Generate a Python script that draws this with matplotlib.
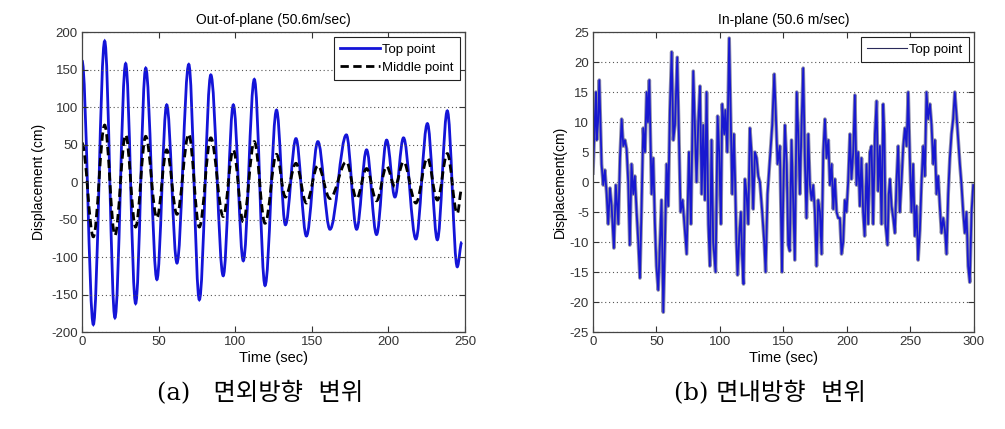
import numpy as np
import matplotlib
matplotlib.use("Agg")
import matplotlib.pyplot as plt
from matplotlib.path import Path
from matplotlib.patches import PathPatch

plt.rcParams['font.family'] = ['Liberation Sans', 'DejaVu Sans']
plt.rcParams['axes.unicode_minus'] = False

# ---- (a) out-of-plane: extrema (time s, displacement cm)
top_t = [0.0, 7.4, 14.8, 21.5, 28.5, 35.0, 41.6, 48.9, 55.3, 62.0, 69.7, 76.6,
         84.1, 92.2, 98.8, 105.3, 112.5, 119.5, 127.0, 132.8, 139.7, 146.5,
         154.0, 161.9, 172.6, 179.3, 185.8, 192.3, 198.9, 204.3, 209.9, 218.0,
         225.5, 232.0, 238.5, 245.0, 248.0]
top_v = [162, -190, 188, -181, 158, -162, 152, -130, 103, -108, 157, -157,
         143, -125, 103, -105, 137, -138, 96, -57, 58, -72,
         54, -63, 63, -63, 43, -70, 56, -20, 59, -76,
         78, -77, 95, -113, -80]
mid_v = [52, -73, 76, -71, 63, -60, 61, -48, 43, -43, 64, -60,
         59, -46, 43, -53, 54, -55, 37, -20, 25, -28,
         22, -22, 27, -22, 18, -25, 21, -6, 27, -28,
         32, -24, 38, -42, -8]

# ---- (b) in-plane: peaks / troughs
inp_t = [0.0, 1.6, 2.4, 2.9, 4.0, 5.0, 6.8, 8.1, 9.4, 10.8, 12.0, 13.4, 14.7,
         16.5, 18.0, 20.0, 21.3, 22.6, 23.9, 25.2, 26.5, 27.8, 29.0, 30.4,
         31.8, 33.0, 34.4, 35.7, 37.0, 38.3, 39.6, 41.0, 42.3, 43.3, 44.4,
         46.2, 47.5, 48.8, 50.0, 51.4, 52.8, 54.0, 55.4, 56.7, 58.0, 59.3,
         60.6, 62.0, 63.3, 64.6, 66.4, 68.0, 69.0, 70.6, 72.4, 73.8,
         75.6, 77.2, 79.0, 80.3, 81.6, 82.9, 84.3, 85.6, 86.9, 88.2, 89.5,
         90.9, 92.1, 93.4, 94.7, 96.6, 98.2, 99.4, 100.8, 101.8, 103.4, 104.3,
         105.8, 107.3, 108.4, 109.7, 111.0, 112.0, 113.0, 113.9, 115.2, 116.5,
         117.6, 118.6, 119.7, 121.0, 122.3, 123.6, 124.9, 126.2, 127.6, 128.9,
         130.2, 131.5, 133.3, 134.9, 136.0, 137.5, 139.4, 141.2, 142.8, 143.9,
         145.4, 147.2, 148.9,
         149.9, 151.2, 152.6, 153.8, 155.0, 156.4, 157.7, 159.0, 160.5, 161.7,
         163.0, 164.3, 165.6, 167.0, 168.2, 169.6, 170.9, 172.2, 173.5, 174.8,
         176.1, 177.4, 178.8, 180.1, 181.4, 182.7, 184.0, 185.4, 186.6, 188.0,
         189.3, 190.6, 191.9, 193.2, 194.5, 195.8, 197.1, 198.4, 199.7, 201.0,
         202.4, 203.6, 205.0, 206.3, 207.6, 208.9, 210.2, 211.5, 212.8, 214.0,
         215.5, 216.8, 218.1, 219.4, 220.7, 222.1, 223.4,
         224.6, 226.0, 227.3, 228.6, 229.5, 230.4, 232.0, 233.0, 233.9, 235.2,
         236.5, 237.8, 239.1, 240.4, 241.7, 243.0, 244.4, 245.7, 247.0, 248.3,
         249.6, 250.9, 252.2, 253.5, 254.8, 256.1, 257.5, 258.8, 260.1, 261.4,
         262.7, 264.0, 265.4, 266.7, 268.0, 269.3, 270.6, 271.9, 273.2, 274.5,
         275.9, 277.2, 278.5, 279.8, 281.1, 282.4, 283.7, 285.0, 286.4, 287.7,
         289.0, 290.3, 291.6, 292.9, 294.2, 295.5, 296.8, 298.2, 299.5]
inp_v = [1.5, 11, 15, 7, 10, 17, 3, -0.5, 2, -2, -7, -1, -4,
         -11, -0.5, -7, 4, 10.5, 6, 7, 5.5, 0, -10.5, 3,
         -2, 1, -5, -10, -16, -4, 9, 5, 15, 10, 17,
         -2, 4, -7, -14, -18, -10, -3, -21.7, -10, 3, -4,
         12, 21.7, 7, 9.5, 20.8, 5, -5, -3, -8, -12,
         5, -7, 18.5, 9.5, 0, 9.5, 16, -2, 9.5, -3, 15,
         -7, -14, 7, -10, -15, 11, 5, -7, 13, 8, 12,
         5, 24, 12, -2, 8, 0, -10, -15.5, -9, -5,
         -13, -17, 0.5, -2, -7, 9, 5, -4.5, 5, 4,
         1, 0, -5, -10, -15, -2, 4, 9.5, 18, 12,
         3, 6, -15,
         -2, 9.5, 3, -10.5, -11.5, 7, -3, -13, 15, 8,
         -2, 9.5, 19, 3, -6, 8, -0.5, -3, -0.5, -5,
         -14, -3, -5, -12, 5, 10.5, 4, 7, -0.5, 3,
         -4.5, 0.5, -5, -6, -6, -12, -10, -3, -5, 0,
         8, 0.5, 5, 14.5, -0.5, 5, -4, 4, -5, -9,
         3, -7, 5, 6, -7, 8, 13.5,
         -1.5, 6, -7, 13, 8, -7, -10.5, -2, 0.5, -4,
         -6, -8.5, 0, 6, -5, 0, 6, 9, 6, 15,
         4, -5, 3, -9, -4, -13, -8, 0, 6, 1,
         15, 10.5, 13, 9.5, 3, 7, -2, 1, -4, -8.5,
         -6, -8, -12, -2, 4, 8, 10.5, 15, 11, 7,
         3, -0.5, -5, -8.5, -5, -14, -16.7, -5, -0.5]


def wave_path(t, v, k=0.364):
    # cubic bezier between successive extrema, flat at each extremum
    verts = [(t[0], v[0])]
    codes = [Path.MOVETO]
    for i in range(len(t) - 1):
        dt = t[i + 1] - t[i]
        verts += [(t[i] + k * dt, v[i]), (t[i + 1] - k * dt, v[i + 1]),
                  (t[i + 1], v[i + 1])]
        codes += [Path.CURVE4] * 3
    return Path(verts, codes)


fig = plt.figure(figsize=(10.05, 4.29), dpi=100)

ax1 = fig.add_axes([0.0816, 0.2261, 0.381, 0.699])
ax2 = fig.add_axes([0.590, 0.2261, 0.379, 0.699])

blue = '#1414d8'
ax1.add_patch(PathPatch(wave_path(top_t, top_v), fill=False, ec=blue, lw=2.0))
ax1.add_patch(PathPatch(wave_path(top_t, mid_v), fill=False, ec='black',
                        lw=2.0, ls=(0, (3, 1.6))))
ax1.plot([], [], color=blue, lw=2.0, label='Top point')
ax1.plot([], [], color='black', lw=2.0, ls=(0, (3, 1.6)), label='Middle point')
ax1.set_xlim(0, 250)
ax1.set_ylim(-200, 200)
ax1.set_xticks(np.arange(0, 251, 50))
ax1.set_yticks(np.arange(-200, 201, 50))
ax1.set_title('Out-of-plane (50.6m/sec)', fontsize=10, pad=6)
ax1.set_ylabel('Displacement (cm)', fontsize=10)

ax2.plot(inp_t, inp_v, color='#8e8ea8', lw=2.6)
ax2.plot(inp_t, inp_v, color='#1818d0', lw=1.3)
ax2.plot([], [], color='#2a2a5a', lw=0.8, label='Top point')
ax2.set_xlim(0, 300)
ax2.set_ylim(-25, 25)
ax2.set_xticks(np.arange(0, 301, 50))
ax2.set_yticks(np.arange(-25, 26, 5))
ax2.set_title('In-plane (50.6 m/sec)', fontsize=10, pad=6)
ax2.set_ylabel('Displacement(cm)', fontsize=10, labelpad=2)

for ax in (ax1, ax2):
    ax.set_xlabel('Time (sec)', fontsize=10.5, labelpad=2)
    ax.yaxis.grid(True, ls=(0, (1, 2.5)), color='#555555', lw=0.8)
    ax.tick_params(direction='in', top=True, right=True, labelsize=9.5,
                   colors='#333333', length=4, pad=3)
    for s in ax.spines.values():
        s.set_color('#444444')
        s.set_linewidth(0.9)
    leg = ax.legend(loc='upper right', fontsize=9.5, fancybox=False,
                    edgecolor='#222222', framealpha=1, handlelength=3.0,
                    borderpad=0.45, labelspacing=0.45, handletextpad=0.2,
                    borderaxespad=0.4)
    leg.get_frame().set_linewidth(0.8)

cap_font = ['DejaVu Serif', 'Noto Sans CJK KR']
fig.text(0.259, 0.083, '(a)   면외방향  변위', ha='center', va='center',
         fontsize=17.5, family=cap_font)
fig.text(0.766, 0.083, '(b) 면내방향  변위', ha='center', va='center',
         fontsize=17.5, family=cap_font)

fig.savefig('out.png', dpi=100)
